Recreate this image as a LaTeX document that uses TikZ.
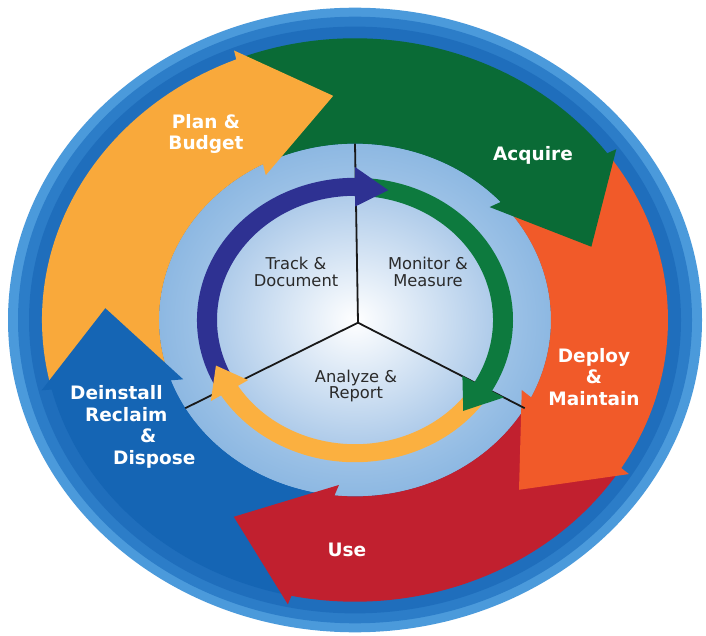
\documentclass[tikz,border=0pt]{standalone}
\usepackage{fontspec}
\setmainfont{DejaVu Sans}
\usepackage{tikz}

\definecolor{rimblue}{HTML}{4B9ADB}
\definecolor{ringblue}{HTML}{2C7DC8}
\definecolor{deepblue}{HTML}{1F6EBC}
\definecolor{planorange}{HTML}{F9A93B}
\definecolor{acquiregreen}{HTML}{0A6B36}
\definecolor{deployorange}{HTML}{F15A29}
\definecolor{usered}{HTML}{C1202F}
\definecolor{deinstallblue}{HTML}{1565B4}
\definecolor{diskhi}{HTML}{D4E5F6}
\definecolor{disklo}{HTML}{8DB8E2}
\definecolor{centerlo}{HTML}{A8C7E8}
\definecolor{navyring}{HTML}{2E3192}
\definecolor{greenring}{HTML}{0D7A3E}
\definecolor{yellowring}{HTML}{FBB040}
\definecolor{textgray}{HTML}{2A2A2A}

\tikzset{
  outerlabel/.style={text=white, font=\bfseries\fontsize{18.5}{21.5}\selectfont, align=center, inner sep=0pt},
  innerlabel/.style={text=textgray, font=\fontsize{16.3}{16.5}\selectfont, align=center, inner sep=0pt},
  spoke/.style={draw=black!90, line width=1.8pt}
}

\begin{document}
\begin{tikzpicture}[x=1pt,y=1pt]
	\useasboundingbox (0,0) rectangle (706,635);
	\fill[white] (0,0) rectangle (706,635);

	\begin{scope}[shift={(355,315)}, yscale=0.9]
		% outer ring
		\fill[rimblue] (0,0) circle[radius=347];
		\fill[ringblue] (0,0) circle[radius=337];
		\fill[deepblue] (0,0) circle[radius=326];
		% light blue disk
		\shade[inner color=diskhi, outer color=disklo] (0,0) circle[radius=196];

		% big arrows: shafts (tails start under the previous head)
		\fill[planorange] (192.5:313) arc[start angle=192.5, end angle=110.5, radius=313]
			-- (116.5:196) arc[start angle=116.5, end angle=198.5, radius=196] -- cycle;
		\fill[acquiregreen] (110.5:313) arc[start angle=110.5, end angle=34.5, radius=313]
			-- (40.5:196) arc[start angle=40.5, end angle=116.5, radius=196] -- cycle;
		\fill[deployorange] (34.5:313) arc[start angle=34.5, end angle=-33.5, radius=313]
			-- (-27.5:196) arc[start angle=-27.5, end angle=40.5, radius=196] -- cycle;
		\fill[usered] (-33.5:313) arc[start angle=-33.5, end angle=-103.5, radius=313]
			-- (-97.5:196) arc[start angle=-97.5, end angle=-27.5, radius=196] -- cycle;
		\fill[deinstallblue] (-103.5:313) arc[start angle=-103.5, end angle=-167.5, radius=313]
			-- (-161.5:196) arc[start angle=-161.5, end angle=-97.5, radius=196] -- cycle;

		% big arrows: heads
		\fill[planorange] (112:323) -- (95:250) -- (119:184) -- cycle;
		\fill[acquiregreen] (36:323) -- (19:250) -- (43:184) -- cycle;
		\fill[deployorange] (-32:323) -- (-49:250) -- (-25:184) -- cycle;
		\fill[usered] (-102:323) -- (-119:250) -- (-95:184) -- cycle;
		\fill[deinstallblue] (-166:323) -- (-183:250) -- (-159:184) -- cycle;

		% centre
		\shade[inner color=white, outer color=centerlo] (0,0) circle[radius=150];

		% spokes
		\coordinate (hub) at (3,-3);
		\coordinate (spokeTop) at (90:196);
		\coordinate (spokeLeft) at (210:196);
		\coordinate (spokeRight) at (-30:196);
		\draw[spoke] (hub) -- (spokeTop);
		\draw[spoke] (hub) -- (spokeLeft);
		\draw[spoke] (hub) -- (spokeRight);

		% inner ring: shafts
		\fill[navyring] (210:158) arc[start angle=210, end angle=88, radius=158]
			-- (88:138) arc[start angle=88, end angle=210, radius=138] -- cycle;
		\fill[greenring] (88:158) arc[start angle=88, end angle=-32, radius=158]
			-- (-32:138) arc[start angle=-32, end angle=88, radius=138] -- cycle;
		\fill[yellowring] (-32:158) arc[start angle=-32, end angle=-150, radius=158]
			-- (-150:138) arc[start angle=-150, end angle=-32, radius=138] -- cycle;

		% inner ring: heads
		\fill[navyring] (90:170) -- (77:148) -- (90:126) -- cycle;
		\fill[greenring] (-30:172) -- (-43:148) -- (-30:124) -- cycle;
		\fill[yellowring] (-148:170) -- (-160:148) -- (-148:126) -- cycle;
	\end{scope}

	% labels
	\node[outerlabel] (planlbl) at (206,501) {Plan \&\\Budget};
	\node[outerlabel] (acquirelbl) at (533,480) {Acquire};
	\node[outerlabel] (deploylbl) at (594,258) {Deploy\\\&\\Maintain};
	\node[outerlabel] (uselbl) at (347,85) {Use};
	\node[outerlabel, align=left, anchor=west] (deinstalllbl) at (70,208)
		{Deinstall\\\hspace*{15pt}Reclaim\\\hspace*{70pt}\&\\\hspace*{43pt}Dispose};

	\node[innerlabel] (tracklbl) at (296,363) {Track \&\\Document};
	\node[innerlabel] (monitorlbl) at (428,363) {Monitor \&\\Measure};
	\node[innerlabel] (analyzelbl) at (356,249) {Analyze \&\\Report};
\end{tikzpicture}
\end{document}
